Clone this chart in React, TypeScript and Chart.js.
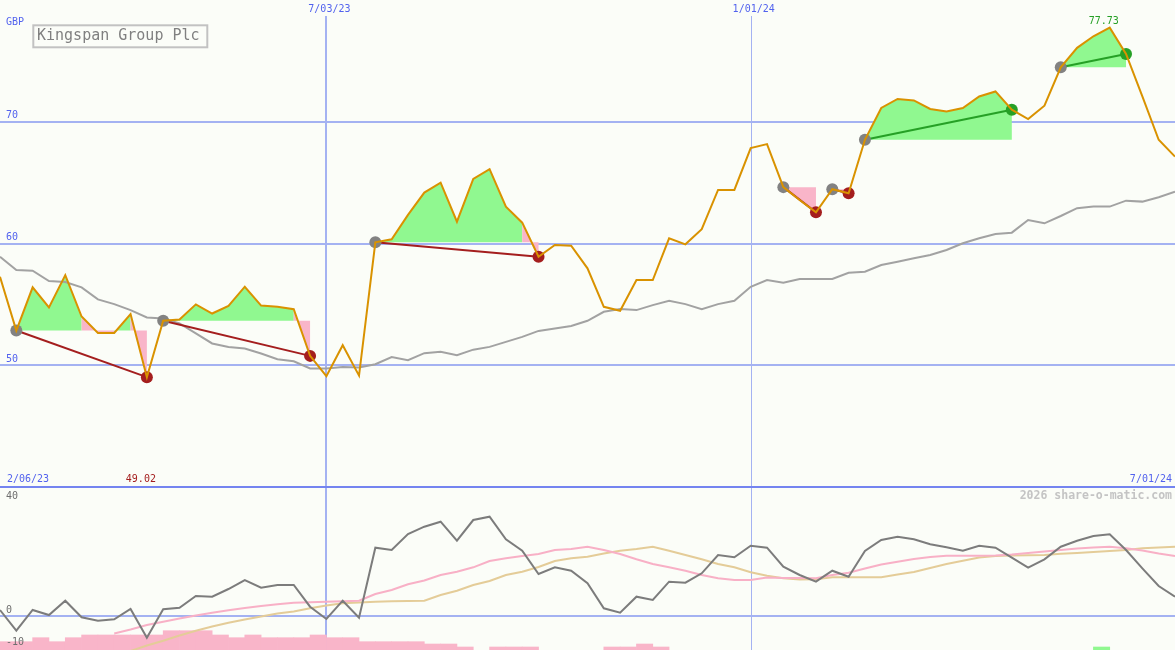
import React, { useEffect, useRef } from 'react';
import { Chart, registerables } from 'chart.js';

Chart.register(...registerables);

// ---------- data ----------
const title = 'Kingspan Group Plc';
const currency = 'GBP';
const credit = '2026 share-o-matic.com';
const startLabel = '2/06/23';
const endLabel = '7/01/24';
const dateLabels = ['7/03/23', '1/01/24'];
const dateIndex = [20, 46];

const priceTicks = [70, 60, 50];
const oscTicks = [40, 0, -10];

// weekly closing price (GBP)
const price = [
  57.27, 52.85, 56.4, 54.75, 57.4, 54.0, 52.65, 52.65, 54.2, 49.02,
  53.65, 53.76, 55.0, 54.25, 54.88, 56.45, 54.9, 54.8, 54.6, 50.77,
  49.1, 51.65, 49.15, 60.1, 60.35, 62.35, 64.18, 65.0, 61.79, 65.31,
  66.11, 63.03, 61.71, 58.91, 59.88, 59.82, 57.96, 54.8, 54.47, 57.0,
  57.0, 60.43, 59.93, 61.17, 64.4, 64.4, 67.84, 68.16, 64.63, 63.58,
  62.57, 64.46, 64.13, 68.52, 71.13, 71.87, 71.75, 71.05, 70.85, 71.13,
  72.08, 72.49, 70.99, 70.22, 71.32, 74.47, 76.07, 77.02, 77.73, 75.57,
  72.08, 68.52, 67.14,
];

// moving average (grey)
const priceAvg = [
  58.91, 57.82, 57.76, 56.91, 56.83, 56.4, 55.41, 55.02, 54.53, 53.93,
  53.84, 53.43, 52.61, 51.79, 51.5, 51.37, 50.96, 50.49, 50.33, 49.73,
  49.73, 49.86, 49.81, 50.08, 50.68, 50.41, 50.99, 51.1, 50.82, 51.28,
  51.51, 51.92, 52.33, 52.82, 53.02, 53.23, 53.65, 54.39, 54.61, 54.53,
  54.94, 55.29, 55.02, 54.61, 55.02, 55.29, 56.44, 57.0, 56.77, 57.08,
  57.08, 57.08, 57.6, 57.68, 58.23, 58.5, 58.78, 59.05, 59.47, 60.02,
  60.43, 60.78, 60.89, 61.93, 61.66, 62.26, 62.9, 63.03, 63.03, 63.52,
  63.44, 63.8, 64.26,
];

// lower panel oscillator (dark grey)
const oscillator = [
  2.07, -5.07, 2.07, 0.34, 5.28, -0.45, -1.62, -1.14, 2.41, -7.48,
  2.31, 2.86, 6.9, 6.66, 9.31, 12.41, 9.76, 10.69, 10.69, 3.21,
  -1.03, 5.28, -0.59, 23.55, 22.76, 28.28, 30.79, 32.52, 25.97, 33.1,
  34.24, 26.45, 22.52, 14.48, 16.79, 15.62, 11.28, 2.66, 1.14, 6.66,
  5.52, 11.83, 11.48, 14.72, 21.03, 20.24, 24.24, 23.55, 17.0, 14.14,
  11.83, 15.62, 13.55, 22.41, 26.21, 27.34, 26.45, 24.72, 23.69, 22.52,
  24.24, 23.55, 20.1, 16.66, 19.55, 23.9, 25.97, 27.59, 28.17, 22.76,
  16.45, 10.34, 6.66,
];

// signal line (pink)
const oscSignal = [
  null, null, null, null, null, null, null, -6.03, -4.66, -3.1,
  -1.97, -0.86, 0.17, 1.14, 1.97, 2.76, 3.45, 4.03, 4.59, 4.76,
  4.93, 5.1, 5.28, 7.59, 8.97, 10.93, 12.24, 14.14, 15.28, 16.79,
  18.97, 19.9, 20.69, 21.38, 22.76, 23.1, 23.9, 22.76, 21.38, 19.55,
  17.93, 16.79, 15.62, 14.14, 13.0, 12.41, 12.41, 13.28, 13.1, 13.1,
  13.0, 14.14, 14.93, 16.38, 17.76, 18.72, 19.66, 20.34, 20.79, 20.79,
  20.79, 20.86, 21.21, 21.72, 22.24, 22.76, 23.28, 23.62, 23.9, 23.34,
  22.59, 21.55, 20.69,
];

// slow signal line (tan)
const oscSlow = [
  null, null, null, null, null, null, null, null, -12.07, -10.17,
  -8.55, -6.72, -5.07, -3.62, -2.34, -1.21, -0.17, 0.86, 1.55, 2.66,
  3.62, 4.38, 4.66, 4.93, 5.1, 5.17, 5.28, 7.24, 8.72, 10.69,
  12.07, 14.14, 15.28, 16.9, 18.97, 19.9, 20.45, 21.55, 22.52, 23.1,
  23.9, 22.52, 21.03, 19.55, 17.93, 16.79, 15.07, 13.86, 13.0, 12.59,
  12.66, 13.34, 13.34, 13.34, 13.34, 14.31, 15.17, 16.55, 17.93, 19.07,
  20.17, 20.69, 20.86, 20.93, 21.03, 21.45, 21.72, 22.07, 22.41, 22.76,
  23.34, 23.62, 23.9,
];

// histogram bar tops (one per weekly interval), null = no bar
const histTop = [
  -8.86, -8.86, -7.48, -8.86, -7.48, -6.55, -6.55, -6.55, -6.55, -6.55,
  -5.07, -5.07, -5.07, -6.55, -7.48, -6.55, -7.48, -7.48, -7.48, -6.55,
  -7.48, -7.48, -8.86, -8.86, -8.86, -8.86, -9.66, -9.66, -10.69, null,
  -10.69, -10.69, -10.69, null, null, null, null, -10.69, -10.69, -9.66,
  -10.69, null, null, null, null, null, null, null, null, null,
  null, null, null, null, null, null, null, null, null, null,
  null, null, null, null, null, null, null, -10.69, null, null,
  null, null,
];
const histUpIndex = [67];

// trades: entry / exit week index
const tradeEntry = [1, 10, 23, 48, 51, 53, 65];
const tradeExit = [9, 19, 33, 50, 52, 62, 69];

// ---------- style ----------
const BG = '#fbfdf8';
const GRID = '#a4b2f2';
const SEP = '#7484f0';
const BLUE_TEXT = '#5262ee';
const ORANGE = '#d99200';
const GREY_LINE = '#a2a2a2';
const GREEN_FILL = '#90f890';
const PINK_FILL = '#f9b5c9';
const LOSS = '#a41e1e';
const WIN = '#26a026';
const MARK_GREY = '#828282';
const FONT = '"DejaVu Sans Mono", "Liberation Mono", monospace';

// panel geometry (canvas 1175 x 650)
const W = 1175;
const H = 650;
const PANEL_SPLIT = 487;
const PRICE_TOP = 80;
const PRICE_BOTTOM = 40;
const OSC_ZERO_PX = 616;
const OSC_PX_PER_UNIT = 2.9;

export default function App() {
  const ref = useRef<HTMLCanvasElement>(null);

  useEffect(() => {
    document.body.style.margin = '0';
    const canvas = ref.current!;
    const n = price.length;
    const pts = (arr: (number | null)[]) => arr.map((v, i) => ({ x: i, y: v }));

    const priceMin = PRICE_BOTTOM - (PRICE_TOP - PRICE_BOTTOM) * (H - PANEL_SPLIT) / PANEL_SPLIT;
    const oscMin = -(H - OSC_ZERO_PX) / OSC_PX_PER_UNIT;
    const oscMax = OSC_ZERO_PX / OSC_PX_PER_UNIT;

    const trades = tradeEntry.map((e, k) => ({ e, x: tradeExit[k], win: price[tradeExit[k]] >= price[e] }));

    const tradeLineSets = trades.map((t) => ({
      type: 'line',
      data: [{ x: t.e, y: price[t.e] }, { x: t.x, y: price[t.x] }],
      borderColor: t.win ? WIN : LOSS,
      borderWidth: 2,
      pointRadius: 0,
      yAxisID: 'y',
      order: 3,
    }));

    const histData: any[] = [];
    const histColors: string[] = [];
    histTop.forEach((v, i) => {
      if (v === null) return;
      histData.push({ x: i + 0.5, y: [oscMin - 1, v] });
      histColors.push(histUpIndex.includes(i) ? GREEN_FILL : PINK_FILL);
    });

    const plugin = {
      id: 'shareOMatic',
      beforeDraw(chart: any) {
        const c = chart.ctx;
        c.save();
        c.fillStyle = BG;
        c.fillRect(0, 0, chart.width, chart.height);
        c.restore();
      },
      beforeDatasetsDraw(chart: any) {
        const c = chart.ctx;
        const { x, y, y2 } = chart.scales;
        c.save();
        // vertical date lines
        dateIndex.forEach((di, k) => {
          const px = Math.round(x.getPixelForValue(di)) + (k === 0 ? 0 : 0.5);
          c.strokeStyle = GRID;
          c.lineWidth = k === 0 ? 2 : 1;
          c.beginPath();
          c.moveTo(px, 16);
          c.lineTo(px, H);
          c.stroke();
        });
        // horizontal price grid
        c.strokeStyle = GRID;
        c.lineWidth = 2;
        priceTicks.forEach((t) => {
          const py = Math.round(y.getPixelForValue(t));
          c.beginPath();
          c.moveTo(0, py);
          c.lineTo(W, py);
          c.stroke();
        });
        // oscillator zero line
        const z = Math.round(y2.getPixelForValue(0));
        c.beginPath();
        c.moveTo(0, z);
        c.lineTo(W, z);
        c.stroke();
        // panel separator
        const sp = Math.round(y.getPixelForValue(PRICE_BOTTOM));
        c.strokeStyle = SEP;
        c.lineWidth = 2;
        c.beginPath();
        c.moveTo(0, sp);
        c.lineTo(W, sp);
        c.stroke();

        // trade fills between price and entry level
        trades.forEach((t) => {
          const base = price[t.e];
          const by = y.getPixelForValue(base);
          [GREEN_FILL, PINK_FILL].forEach((col) => {
            c.fillStyle = col;
            c.beginPath();
            for (let i = t.e; i < t.x; i++) {
              const isGreen = price[i + 1] >= base;
              if ((col === GREEN_FILL) !== isGreen) continue;
              const x0 = x.getPixelForValue(i);
              const x1 = x.getPixelForValue(i + 1);
              c.moveTo(x0, y.getPixelForValue(price[i]));
              c.lineTo(x1, y.getPixelForValue(price[i + 1]));
              c.lineTo(x1, by);
              c.lineTo(x0, by);
              c.closePath();
            }
            c.fill();
          });
        });
        c.restore();
      },
      afterDatasetsDraw(chart: any) {
        const c = chart.ctx;
        const { x, y, y2 } = chart.scales;
        c.save();
        c.textBaseline = 'middle';
        c.font = `10px ${FONT}`;
        c.fillStyle = BLUE_TEXT;
        c.textAlign = 'left';
        c.fillText(currency, 6, 22);
        priceTicks.forEach((t) => c.fillText(String(t), 6, y.getPixelForValue(t) - 6));
        const sp = y.getPixelForValue(PRICE_BOTTOM);
        c.fillText(startLabel, 7, sp - 8);
        c.textAlign = 'right';
        c.fillText(endLabel, W - 3, sp - 8);
        c.textAlign = 'center';
        dateIndex.forEach((di, k) => c.fillText(dateLabels[k], x.getPixelForValue(di) + 3, 9));

        // min / max labels
        let mi = 0;
        let ma = 0;
        price.forEach((v, i) => {
          if (v < price[mi]) mi = i;
          if (v > price[ma]) ma = i;
        });
        c.fillStyle = LOSS;
        c.fillText(price[mi].toFixed(2), x.getPixelForValue(mi) - 6, sp - 8);
        c.fillStyle = WIN;
        c.fillText(price[ma].toFixed(2), x.getPixelForValue(ma) - 6, 21);

        // oscillator labels
        c.textAlign = 'left';
        c.fillStyle = '#6e6e6e';
        oscTicks.forEach((t) => {
          let py = y2.getPixelForValue(t) - 6;
          if (t === oscTicks[oscTicks.length - 1]) py += 3;
          if (t === oscTicks[0]) py += 2;
          c.fillText(String(t), 6, py);
        });

        // credit
        c.textAlign = 'right';
        c.fillStyle = '#c4c4c4';
        c.font = `bold 11.5px ${FONT}`;
        c.fillText(credit, W - 3, sp + 9);

        // title box
        c.strokeStyle = '#c2c2c2';
        c.lineWidth = 2;
        c.strokeRect(33.3, 25.3, 174, 22);
        c.textAlign = 'left';
        c.fillStyle = '#808080';
        c.font = `15px ${FONT}`;
        c.fillText(title, 37, 36.5);
        c.restore();
      },
    };

    const chart = new Chart(canvas, {
      type: 'line',
      data: {
        datasets: [
          {
            data: pts(price),
            borderColor: ORANGE,
            borderWidth: 2,
            pointRadius: 0,
            yAxisID: 'y',
            order: 1,
          },
          {
            data: trades.map((t) => ({ x: t.e, y: price[t.e] })),
            showLine: false,
            pointRadius: 6,
            pointBorderWidth: 0,
            pointBackgroundColor: MARK_GREY,
            yAxisID: 'y',
            order: 2,
          },
          {
            data: trades.map((t) => ({ x: t.x, y: price[t.x] })),
            showLine: false,
            pointRadius: 6,
            pointBorderWidth: 0,
            pointBackgroundColor: trades.map((t) => (t.win ? WIN : LOSS)),
            yAxisID: 'y',
            order: 2,
          },
          ...tradeLineSets,
          {
            data: pts(priceAvg),
            borderColor: GREY_LINE,
            borderWidth: 2,
            pointRadius: 0,
            yAxisID: 'y',
            order: 5,
          },
          {
            data: pts(oscillator),
            borderColor: '#7c7c7c',
            borderWidth: 2,
            pointRadius: 0,
            yAxisID: 'y2',
            order: 4,
          },
          {
            data: pts(oscSignal),
            borderColor: '#f8b0c6',
            borderWidth: 2,
            pointRadius: 0,
            yAxisID: 'y2',
            order: 4.5,
          },
          {
            data: pts(oscSlow),
            borderColor: '#e4cc98',
            borderWidth: 2,
            pointRadius: 0,
            yAxisID: 'y2',
            order: 4.6,
          },
          {
            type: 'bar',
            data: histData,
            backgroundColor: histColors,
            borderWidth: 0,
            barPercentage: 1,
            categoryPercentage: 1,
            grouped: false,
            yAxisID: 'y2',
            order: 6,
          },
        ] as any,
      },
      options: {
        responsive: false,
        animation: false,
        devicePixelRatio: 1,
        layout: { padding: 0, autoPadding: false },
        plugins: { legend: { display: false }, tooltip: { enabled: false } },
        events: [],
        scales: {
          x: { type: 'linear', min: 0, max: n - 1, display: false, offset: false },
          y: { type: 'linear', min: priceMin, max: PRICE_TOP, display: false },
          y2: { type: 'linear', min: oscMin, max: oscMax, display: false },
        },
      } as any,
      plugins: [plugin as any],
    });

    return () => chart.destroy();
  }, []);

  return (
    <div style={{ position: 'absolute', left: 0, top: 0, width: W, height: H }}>
      <canvas ref={ref} width={W} height={H} style={{ display: 'block' }} />
    </div>
  );
}
